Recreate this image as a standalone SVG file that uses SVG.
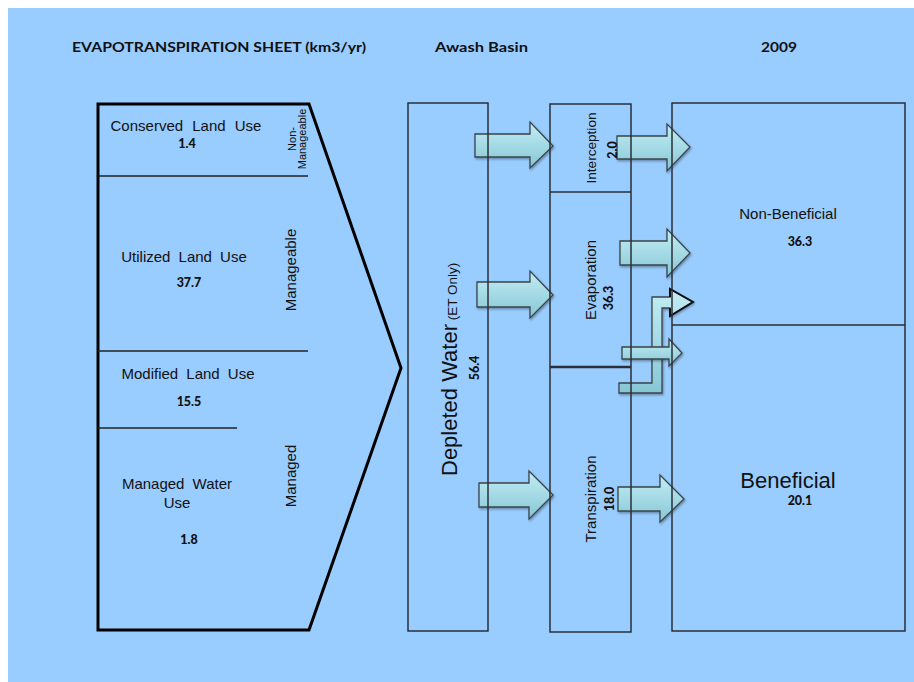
<svg xmlns="http://www.w3.org/2000/svg" width="914" height="682" viewBox="0 0 914 682">
<defs>
<linearGradient id="ag" x1="0" y1="0" x2="0" y2="1">
<stop offset="0" stop-color="#C4EDF3"/>
<stop offset="0.5" stop-color="#A4DAE5"/>
<stop offset="1" stop-color="#88C6D5"/>
</linearGradient>
<filter id="sh" x="-20%" y="-20%" width="140%" height="140%">
<feDropShadow dx="1" dy="1.5" stdDeviation="1" flood-color="#000" flood-opacity="0.35"/>
</filter>
<style>
.lbl{font-family:"Liberation Sans",Arial,sans-serif;fill:#111;}
.num{font-family:Lato,"Liberation Sans",sans-serif;font-weight:900;fill:#111;font-size:12.5px;}
.ttl{font-family:Lato,"Liberation Sans",sans-serif;font-weight:bold;font-size:14px;fill:#111;}
.box{fill:none;stroke:#2a2f38;stroke-width:1.5;}
.thin{stroke:#222;stroke-width:1.3;fill:none;}
.arr{fill:url(#ag);stroke:#3a4448;stroke-width:1.3;filter:url(#sh);}
</style>
</defs>
<rect x="8" y="8" width="906" height="674" fill="#99CCFF"/>

<g id="titles">
<text class="ttl" x="72" y="52" textLength="294" lengthAdjust="spacingAndGlyphs">EVAPOTRANSPIRATION SHEET (km3/yr)</text>
<text class="ttl" x="435" y="52" textLength="93" lengthAdjust="spacingAndGlyphs">Awash Basin</text>
<text class="ttl" x="761" y="52" textLength="36" lengthAdjust="spacingAndGlyphs">2009</text>
</g>

<g id="connectors">
<path class="arr" d="M475,134 L530,134 L530,122 L553,146 L530,168 L530,157 L475,157 Z"/>
<path class="arr" d="M477,282 L530,282 L530,271 L553,295 L530,318 L530,307 L477,307 Z"/>
<path class="arr" d="M479,483 L529,483 L529,471 L553,495 L529,519 L529,507 L479,507 Z"/>
<path class="arr" d="M617,136 L667,136 L667,124 L690,147 L667,171 L667,159 L617,159 Z"/>
<path class="arr" d="M620,241 L667,241 L667,229 L690,253 L667,277 L667,265 L620,265 Z"/>
<path class="arr" d="M618,487 L660,487 L660,475 L684,499 L660,522 L660,511 L618,511 Z"/>
<path class="arr" d="M619,383 L652,383 L652,297 L670,297 L670,289 L693,302 L670,316 L670,308 L662,308 L662,393 L619,393 Z"/>
<path d="M670,297 L670,289 L693,302 L670,316 L670,308" fill="none" stroke="#111" stroke-width="2" stroke-linejoin="miter"/>
<path class="arr" d="M622,347 L669,347 L669,339 L682,353 L669,366 L669,359 L622,359 Z"/>
</g>

<g id="land-use">
<path d="M98,104 L309,104 L401,368 L309,630 L98,630 Z" fill="none" stroke="#000" stroke-width="3" stroke-linejoin="miter"/>
<line class="thin" x1="98" y1="176" x2="308" y2="176"/>
<line class="thin" x1="98" y1="351" x2="308" y2="351"/>
<line class="thin" x1="98" y1="428" x2="237" y2="428"/>
<text class="lbl" x="186" y="131" font-size="15" text-anchor="middle" word-spacing="5">Conserved Land Use</text>
<text class="num" x="187" y="148" text-anchor="middle">1.4</text>
<text class="lbl" font-size="11" text-anchor="middle" transform="translate(296,139) rotate(-90)">Non-</text>
<text class="lbl" font-size="11" text-anchor="middle" transform="translate(306,139) rotate(-90)">Manageable</text>
<text class="lbl" x="184" y="262" font-size="15" text-anchor="middle" word-spacing="4">Utilized Land Use</text>
<text class="num" x="189" y="287" text-anchor="middle">37.7</text>
<text class="lbl" font-size="15" text-anchor="middle" transform="translate(296,270) rotate(-90)">Manageable</text>
<text class="lbl" x="188" y="379" font-size="15" text-anchor="middle" word-spacing="4">Modified Land Use</text>
<text class="num" x="189" y="406" text-anchor="middle">15.5</text>
<text class="lbl" x="177" y="489" font-size="15" text-anchor="middle" word-spacing="4">Managed Water</text>
<text class="lbl" x="177" y="508" font-size="15" text-anchor="middle">Use</text>
<text class="num" x="189" y="544" text-anchor="middle">1.8</text>
<text class="lbl" font-size="15" text-anchor="middle" transform="translate(296,476) rotate(-90)">Managed</text>
</g>

<g id="depleted-water">
<rect class="box" x="408" y="103" width="80" height="528"/>
<text class="lbl" font-size="22" transform="translate(457,476) rotate(-90)">Depleted Water<tspan font-size="13.5"> (ET Only)</tspan></text>
<text class="num" text-anchor="middle" transform="translate(479,368) rotate(-90)">56.4</text>
</g>

<g id="processes">
<rect class="box" x="550" y="104" width="81" height="528"/>
<line class="box" x1="550" y1="192" x2="631" y2="192"/>
<line x1="550" y1="367" x2="631" y2="367" stroke="#2a2f38" stroke-width="2.5"/>
<text class="lbl" font-size="13.5" text-anchor="middle" transform="translate(596,148) rotate(-90)" textLength="71" lengthAdjust="spacingAndGlyphs">Interception</text>
<text class="num" text-anchor="middle" transform="translate(617,150) rotate(-90)">2.0</text>
<text class="lbl" font-size="15" text-anchor="middle" transform="translate(596,280) rotate(-90)">Evaporation</text>
<text class="num" text-anchor="middle" transform="translate(613,298) rotate(-90)">36.3</text>
<text class="lbl" font-size="15" text-anchor="middle" transform="translate(596,499) rotate(-90)">Transpiration</text>
<text class="num" text-anchor="middle" transform="translate(614,499) rotate(-90)">18.0</text>
</g>

<g id="outcomes">
<rect class="box" x="672" y="103" width="233" height="528"/>
<line class="box" x1="672" y1="325" x2="905" y2="325"/>
<text class="lbl" x="788" y="219" font-size="15" text-anchor="middle">Non-Beneficial</text>
<text class="num" x="800" y="246" text-anchor="middle">36.3</text>
<text class="lbl" x="788" y="488" font-size="22" text-anchor="middle">Beneficial</text>
<text class="num" x="800" y="505" text-anchor="middle">20.1</text>
</g>
</svg>
